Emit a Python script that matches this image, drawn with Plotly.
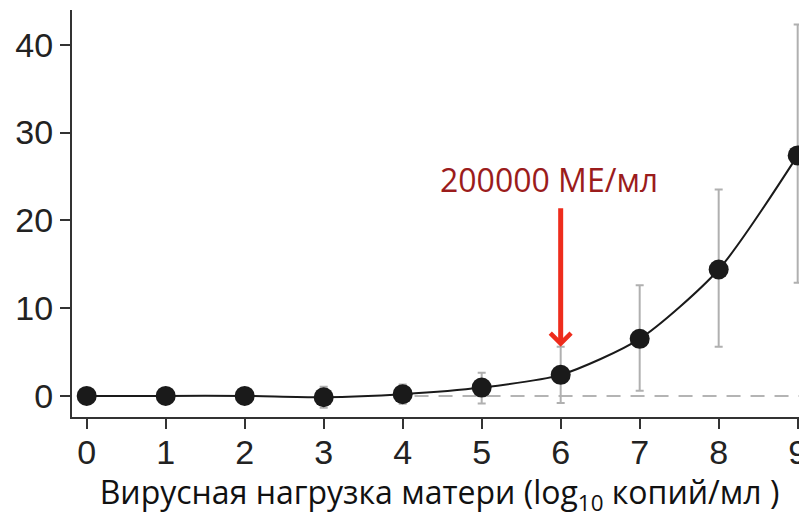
import plotly.graph_objects as go

# Data
viral_load_log10 = [0, 1, 2, 3, 4, 5, 6, 7, 8, 9]
transmission_pct = [0, 0, 0, -0.15, 0.2, 0.95, 2.4, 6.5, 14.4, 27.4]
err_upper = [0, 0, 0, 1.2, 1.1, 1.7, 3.2, 6.1, 9.1, 14.9]
err_lower = [0, 0, 0, 1.2, 1.1, 1.8, 3.2, 5.9, 8.8, 14.5]
x_ticks = [0, 1, 2, 3, 4, 5, 6, 7, 8, 9]
y_ticks = [0, 10, 20, 30, 40]
baseline_level = 0
baseline_start = 4.15
threshold_x = 6
threshold_label = "200000 МЕ/мл"
x_title = "Вирусная нагрузка матери (log<sub>10</sub> копий/мл )"

fig = go.Figure()

fig.add_shape(type="line", xref="x", yref="y",
              x0=baseline_start, x1=9.3, y0=baseline_level, y1=baseline_level,
              line=dict(color="#b4b4b4", width=2, dash="14px,10px"), layer="below")

fig.add_trace(go.Scatter(
    x=viral_load_log10, y=transmission_pct,
    mode="lines+markers",
    line=dict(color="#1a1a1a", width=2, shape="spline", smoothing=0.7),
    marker=dict(size=20, color="#1a1a1a"),
    error_y=dict(type="data", symmetric=False, array=err_upper, arrayminus=err_lower,
                 color="#b0b0b0", thickness=2, width=4),
    showlegend=False, cliponaxis=False,
))

threshold_y = transmission_pct[threshold_x] + err_upper[threshold_x]

fig.add_annotation(x=threshold_x, y=threshold_y, xref="x", yref="y",
                   text="", showarrow=True, ax=0, ay=-140,
                   arrowhead=4, arrowsize=0.8, arrowwidth=5, arrowcolor="#ee2c1c")

fig.add_annotation(x=5.85, y=24.6, xref="x", yref="y", text=threshold_label,
                   showarrow=False, font=dict(family="Open Sans", size=32, color="#9b1c1c"))

# page body adds an 8px offset, so the figure is 8px smaller on each side
fig.update_layout(
    width=799, height=510,
    margin=dict(l=64, r=0, t=2, b=101, autoexpand=False),
    paper_bgcolor="white", plot_bgcolor="white",
    font=dict(family="Liberation Sans", color="#222222"),
    xaxis=dict(range=[-0.186, 9.118], tickvals=x_ticks, showgrid=False, zeroline=False,
               automargin=False, ticklabeloverflow="allow", ticklabelstandoff=-6,
               showline=True, linecolor="#333333", linewidth=2,
               ticks="outside", ticklen=10, tickwidth=2, tickcolor="#333333",
               tickfont=dict(family="Liberation Sans", size=34, color="#222222"),
               title=dict(text=x_title, font=dict(family="Open Sans", size=32, color="#111111"),
                          standoff=5)),
    yaxis=dict(range=[-2.40, 43.96], tickvals=y_ticks, showgrid=False, zeroline=False,
               automargin=False,
               showline=True, linecolor="#333333", linewidth=2,
               ticks="outside", ticklen=10, tickwidth=2, tickcolor="#333333",
               tickfont=dict(family="Liberation Sans", size=34, color="#222222")),
)

fig.write_html("out.html")
